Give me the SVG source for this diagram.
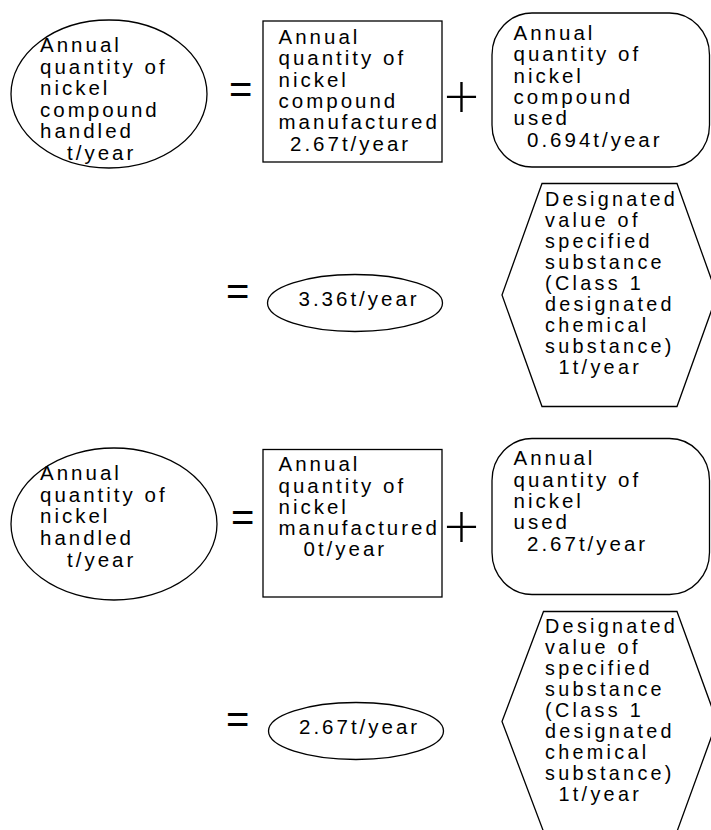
<svg xmlns="http://www.w3.org/2000/svg" width="711" height="830" viewBox="0 0 711 830">
  <style>
    .shape { fill: #ffffff; stroke: #000000; stroke-width: 1.3; }
    .lbl { font-family: "Liberation Sans", Arial, sans-serif; font-size: 20.5px; letter-spacing: 3px; fill: #000000; }
    .hex { font-size: 19.8px; letter-spacing: 3.3px; }
    .eq { font-family: "Liberation Sans", Arial, sans-serif; font-size: 40px; fill: #000000; }
    .plus { font-family: Lato, "DejaVu Sans", sans-serif; font-weight: 300; font-size: 62px; fill: #000000; }
  </style>
  <rect width="711" height="830" fill="#ffffff"/>

  <!-- operators between the terms -->
  <g id="operators">
    <text class="eq" x="229" y="103">=</text>
    <text class="plus" x="461.5" y="117" text-anchor="middle">+</text>
    <text class="eq" x="226" y="305">=</text>
    <text class="eq" x="231" y="531">=</text>
    <text class="plus" x="461.5" y="547" text-anchor="middle">+</text>
    <text class="eq" x="226" y="733">=</text>
  </g>

  <!-- nickel compound: first equation -->
  <g id="compound-handled">
    <ellipse class="shape" cx="109" cy="94" rx="98" ry="74"/>
    <text class="lbl" x="40" y="52">Annual</text>
    <text class="lbl" x="40" y="73.5">quantity of</text>
    <text class="lbl" x="40" y="95">nickel</text>
    <text class="lbl" x="40" y="116.5">compound</text>
    <text class="lbl" x="40" y="138">handled</text>
    <text class="lbl" x="67" y="159.5">t/year</text>
  </g>
  <g id="compound-manufactured">
    <rect class="shape" x="263" y="21" width="179" height="141"/>
    <text class="lbl" x="278.5" y="43.5">Annual</text>
    <text class="lbl" x="278.5" y="65">quantity of</text>
    <text class="lbl" x="278.5" y="86.5">nickel</text>
    <text class="lbl" x="278.5" y="108">compound</text>
    <text class="lbl" x="278.5" y="129">manufactured</text>
    <text class="lbl" x="290" y="150.5">2.67t/year</text>
  </g>
  <g id="compound-used">
    <rect class="shape" x="492" y="13" width="217.5" height="154" rx="40" ry="42"/>
    <text class="lbl" x="513.5" y="39.5">Annual</text>
    <text class="lbl" x="513.5" y="61">quantity of</text>
    <text class="lbl" x="513.5" y="82.5">nickel</text>
    <text class="lbl" x="513.5" y="103.5">compound</text>
    <text class="lbl" x="513.5" y="125">used</text>
    <text class="lbl" x="527" y="146.5">0.694t/year</text>
  </g>

  <!-- nickel compound: result and threshold -->
  <g id="compound-total">
    <ellipse class="shape" cx="355" cy="303" rx="87.5" ry="28.5"/>
    <text class="lbl" x="298.5" y="306">3.36t/year</text>
  </g>
  <g id="compound-threshold">
    <polygon class="shape" points="542,183.5 677,183.5 717,295 677,406.5 542,406.5 502,295"/>
    <text class="lbl hex" x="545" y="205.5">Designated</text>
    <text class="lbl hex" x="545" y="226.5">value of</text>
    <text class="lbl hex" x="545" y="247.5">specified</text>
    <text class="lbl hex" x="545" y="268.5">substance</text>
    <text class="lbl hex" x="545" y="289.5">(Class 1</text>
    <text class="lbl hex" x="545" y="310.5">designated</text>
    <text class="lbl hex" x="545" y="331.5">chemical</text>
    <text class="lbl hex" x="545" y="352.5">substance)</text>
    <text class="lbl hex" x="558.5" y="373.5">1t/year</text>
  </g>

  <!-- nickel: second equation -->
  <g id="nickel-handled">
    <ellipse class="shape" cx="114" cy="524" rx="103" ry="76"/>
    <text class="lbl" x="40" y="480">Annual</text>
    <text class="lbl" x="40" y="501.7">quantity of</text>
    <text class="lbl" x="40" y="523.4">nickel</text>
    <text class="lbl" x="40" y="545.1">handled</text>
    <text class="lbl" x="67" y="566.8">t/year</text>
  </g>
  <g id="nickel-manufactured">
    <rect class="shape" x="263" y="449.5" width="179" height="147.5"/>
    <text class="lbl" x="278.5" y="471">Annual</text>
    <text class="lbl" x="278.5" y="492.5">quantity of</text>
    <text class="lbl" x="278.5" y="514">nickel</text>
    <text class="lbl" x="278.5" y="535">manufactured</text>
    <text class="lbl" x="303.5" y="556">0t/year</text>
  </g>
  <g id="nickel-used">
    <rect class="shape" x="492" y="438.5" width="217.5" height="156" rx="40" ry="42"/>
    <text class="lbl" x="513.5" y="465">Annual</text>
    <text class="lbl" x="513.5" y="486.5">quantity of</text>
    <text class="lbl" x="513.5" y="507.5">nickel</text>
    <text class="lbl" x="513.5" y="529">used</text>
    <text class="lbl" x="527" y="550.5">2.67t/year</text>
  </g>

  <!-- nickel: result and threshold -->
  <g id="nickel-total">
    <ellipse class="shape" cx="356" cy="731" rx="87.5" ry="28.5"/>
    <text class="lbl" x="299" y="734">2.67t/year</text>
  </g>
  <g id="nickel-threshold">
    <polygon class="shape" points="543.5,611.5 677,611.5 717,721.5 677,831.5 543.5,831.5 502,721.5"/>
    <text class="lbl hex" x="545" y="632.5">Designated</text>
    <text class="lbl hex" x="545" y="653.5">value of</text>
    <text class="lbl hex" x="545" y="674.5">specified</text>
    <text class="lbl hex" x="545" y="695.5">substance</text>
    <text class="lbl hex" x="545" y="716.5">(Class 1</text>
    <text class="lbl hex" x="545" y="737.5">designated</text>
    <text class="lbl hex" x="545" y="758.5">chemical</text>
    <text class="lbl hex" x="545" y="779.5">substance)</text>
    <text class="lbl hex" x="558.5" y="800.5">1t/year</text>
  </g>
</svg>
